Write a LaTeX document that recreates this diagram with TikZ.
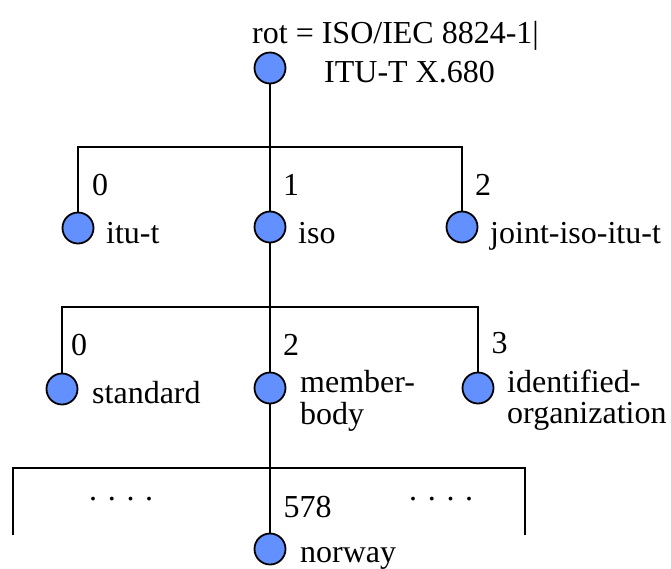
\documentclass[tikz,border=0pt]{standalone}
\usepackage{fontspec}
\setmainfont{Liberation Serif}
\definecolor{nodeblue}{RGB}{98,145,255}
\begin{document}
\begin{tikzpicture}[x=1pt,y=-1pt,
  oid/.style={circle,draw=black,line width=1.8pt,fill=nodeblue,minimum size=31pt,inner sep=0pt},
  lbl/.style={anchor=base west,inner sep=0pt,font=\fontsize{32}{32}\selectfont},
  conn/.style={line width=2pt}]
\useasboundingbox (0,0) rectangle (671,568);
% nodes
\node[oid] (root) at (270,68) {};
\node[oid] (itu) at (78,228) {};
\node[oid] (iso) at (270,227) {};
\node[oid] (joint) at (462,227) {};
\node[oid] (std) at (62,389) {};
\node[oid] (mb) at (270,388) {};
\node[oid] (idorg) at (478,388) {};
\node[oid] (nor) at (270,549) {};
\coordinate (leftend) at (13,535);
\coordinate (rightend) at (525,535);
% connectors
\draw[conn] (root.south) -- (270,147) -| (itu.north);
\draw[conn] (root.south) -- (iso.north);
\draw[conn] (root.south) -- (270,147) -| (joint.north);
\draw[conn] (iso.south) -- (270,307) -| (std.north);
\draw[conn] (iso.south) -- (mb.north);
\draw[conn] (iso.south) -- (270,307) -| (idorg.north);
\draw[conn] (mb.south) -- (270,468) -| (leftend);
\draw[conn] (mb.south) -- (nor.north);
\draw[conn] (mb.south) -- (270,468) -| (rightend);
% labels
\node[lbl] (rl1) at (252,43) {rot = ISO/IEC 8824-1|};
\node[lbl] (rl2) at (324,82) {ITU-T X.680};
\node[lbl] (n0) at (92,195) {0};
\node[lbl] (n1) at (283,195) {1};
\node[lbl] (n2) at (475,195) {2};
\node[lbl] (t1) at (106,243) {itu-t};
\node[lbl] (t2) at (298,243) {iso};
\node[lbl] (t3) at (490,243) {joint-iso-itu-t};
\node[lbl] (m0) at (71,355) {0};
\node[lbl] (m2) at (283,355) {2};
\node[lbl] (m3) at (491.5,353) {3};
\node[lbl] (s1) at (92,403) {standard};
\node[lbl] (s2a) at (300,392) {member-};
\node[lbl] (s2b) at (300,424) {body};
\node[lbl] (s3a) at (507,392) {identified-};
\node[lbl] (s3b) at (507,423) {organization};
\node[lbl] (c578) at (283.5,517) {578};
\node[lbl] (tn) at (300,562) {norway};
\node[lbl] (dl) at (89,500) {. . . .};
\node[lbl] (dr) at (409,500) {. . . .};
\end{tikzpicture}
\end{document}
